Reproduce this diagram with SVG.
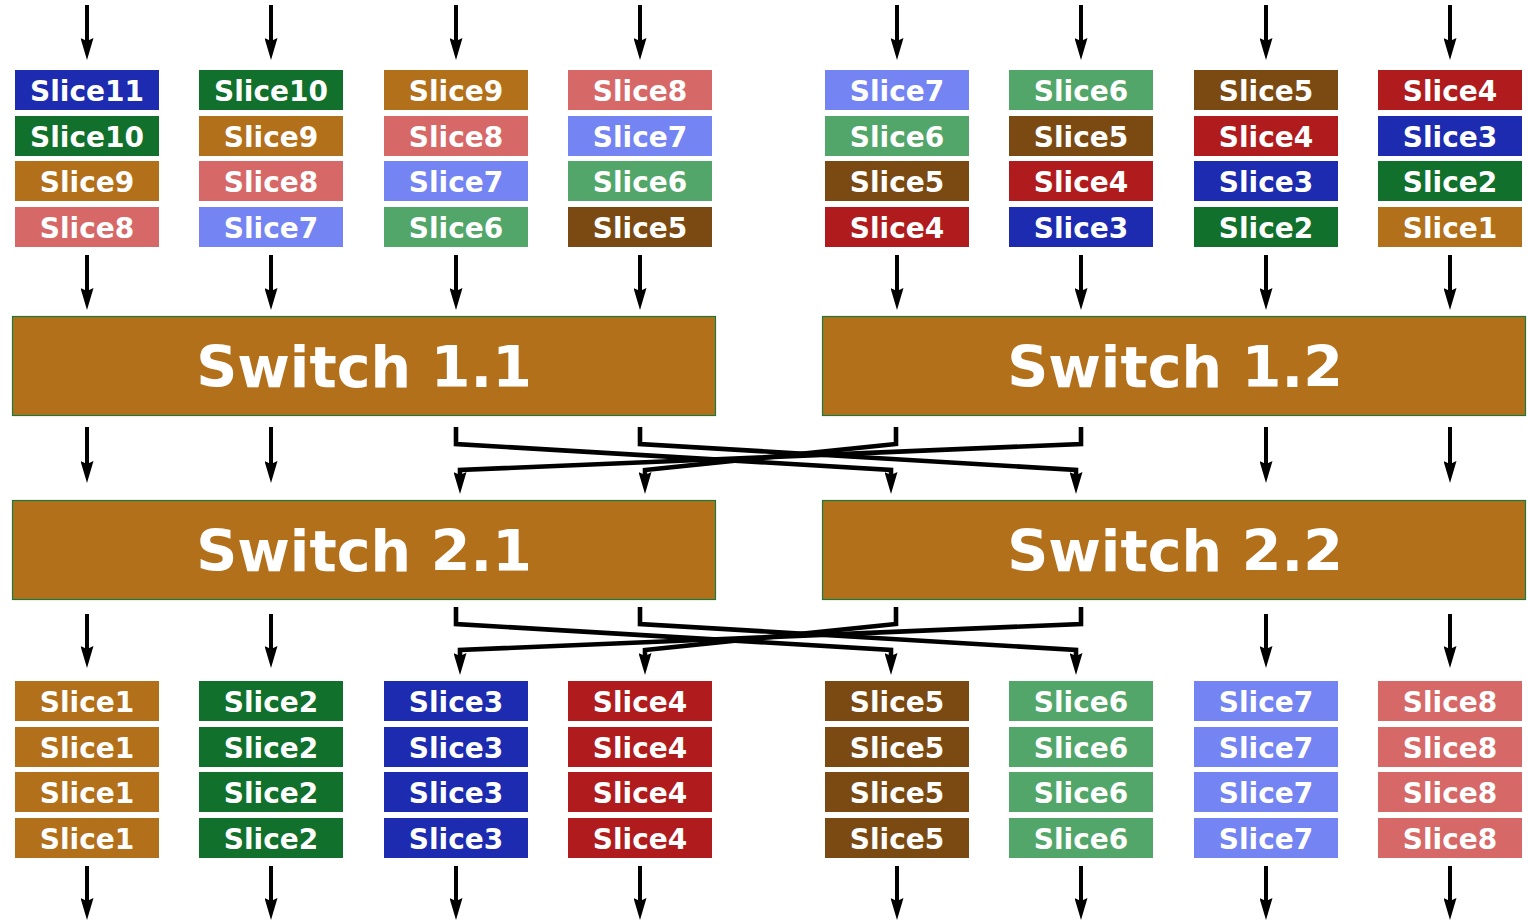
<svg xmlns="http://www.w3.org/2000/svg" width="1528" height="924" viewBox="0 0 1528 924">
<style>
.c1{fill:#b3701b}.c2{fill:#10702c}.c3{fill:#1c2bb0}.c4{fill:#b01b1d}
.c5{fill:#7a4a12}.c6{fill:#52a66a}.c7{fill:#7484f2}.c8{fill:#d66868}
.t{font-family:"DejaVu Sans","Liberation Sans",sans-serif;font-weight:bold;font-size:28px;fill:#fff;text-anchor:middle}
.sw{fill:#b3701b;stroke:#1b7a3b;stroke-width:1.2}
.st{font-family:"DejaVu Sans","Liberation Sans",sans-serif;font-weight:bold;font-size:57px;fill:#fff;text-anchor:middle}
.a{fill:none;stroke:#000;stroke-width:4;marker-end:url(#ah)}
.x{stroke-width:4.6}
</style>
<defs>
<marker id="ah" markerUnits="userSpaceOnUse" viewBox="0 0 22 13" markerWidth="22" markerHeight="13" refX="3" refY="6.5" orient="auto">
<path d="M0,0 L22,6.5 L0,13 L3,6.5 z" fill="#000"/>
</marker>
</defs>
<g id="connectors">
<path class="a" d="M87,5 V41"/><path class="a" d="M271,5 V41"/><path class="a" d="M456,5 V41"/><path class="a" d="M640,5 V41"/>
<path class="a" d="M897,5 V41"/><path class="a" d="M1081,5 V41"/><path class="a" d="M1266,5 V41"/><path class="a" d="M1450,5 V41"/>
<path class="a" d="M87,255 V291"/><path class="a" d="M271,255 V291"/><path class="a" d="M456,255 V291"/><path class="a" d="M640,255 V291"/>
<path class="a" d="M897,255 V291"/><path class="a" d="M1081,255 V291"/><path class="a" d="M1266,255 V291"/><path class="a" d="M1450,255 V291"/>
<path class="a" d="M87,427 V464"/><path class="a" d="M271,427 V464"/><path class="a" d="M1266,427 V464"/><path class="a" d="M1450,427 V464"/>
<path class="a x" d="M456,427 V444 L891,470 V475"/>
<path class="a x" d="M640,427 V444 L1076,470 V475"/>
<path class="a x" d="M896,427 V444 L645,470 V475"/>
<path class="a x" d="M1081,427 V444 L460,470 V475"/>
<path class="a" d="M87,614 V649"/><path class="a" d="M271,614 V649"/><path class="a" d="M1266,614 V649"/><path class="a" d="M1450,614 V649"/>
<path class="a x" d="M456,607 V624 L891,650 V656"/>
<path class="a x" d="M640,607 V624 L1076,650 V656"/>
<path class="a x" d="M896,607 V624 L645,650 V656"/>
<path class="a x" d="M1081,607 V624 L460,650 V656"/>
<path class="a" d="M87,866 V901"/><path class="a" d="M271,866 V901"/><path class="a" d="M456,866 V901"/><path class="a" d="M640,866 V901"/>
<path class="a" d="M897,866 V901"/><path class="a" d="M1081,866 V901"/><path class="a" d="M1266,866 V901"/><path class="a" d="M1450,866 V901"/>
</g>
<g id="switch11"><rect class="sw" x="12.5" y="316.5" width="703" height="99"/><text class="st" x="364" y="387">Switch 1.1</text></g>
<g id="switch12"><rect class="sw" x="822.5" y="316.5" width="703" height="99"/><text class="st" x="1175" y="387">Switch 1.2</text></g>
<g id="switch21"><rect class="sw" x="12.5" y="500.5" width="703" height="99"/><text class="st" x="364" y="571">Switch 2.1</text></g>
<g id="switch22"><rect class="sw" x="822.5" y="500.5" width="703" height="99"/><text class="st" x="1175" y="571">Switch 2.2</text></g>
<g id="t1a"><rect class="c3" x="15" y="70" width="144" height="40"/><text class="t" x="87" y="101">Slice11</text></g>
<g id="t1b"><rect class="c2" x="15" y="116" width="144" height="40"/><text class="t" x="87" y="147">Slice10</text></g>
<g id="t1c"><rect class="c1" x="15" y="161" width="144" height="40"/><text class="t" x="87" y="192">Slice9</text></g>
<g id="t1d"><rect class="c8" x="15" y="207" width="144" height="40"/><text class="t" x="87" y="238">Slice8</text></g>
<g id="t2a"><rect class="c2" x="199" y="70" width="144" height="40"/><text class="t" x="271" y="101">Slice10</text></g>
<g id="t2b"><rect class="c1" x="199" y="116" width="144" height="40"/><text class="t" x="271" y="147">Slice9</text></g>
<g id="t2c"><rect class="c8" x="199" y="161" width="144" height="40"/><text class="t" x="271" y="192">Slice8</text></g>
<g id="t2d"><rect class="c7" x="199" y="207" width="144" height="40"/><text class="t" x="271" y="238">Slice7</text></g>
<g id="t3a"><rect class="c1" x="384" y="70" width="144" height="40"/><text class="t" x="456" y="101">Slice9</text></g>
<g id="t3b"><rect class="c8" x="384" y="116" width="144" height="40"/><text class="t" x="456" y="147">Slice8</text></g>
<g id="t3c"><rect class="c7" x="384" y="161" width="144" height="40"/><text class="t" x="456" y="192">Slice7</text></g>
<g id="t3d"><rect class="c6" x="384" y="207" width="144" height="40"/><text class="t" x="456" y="238">Slice6</text></g>
<g id="t4a"><rect class="c8" x="568" y="70" width="144" height="40"/><text class="t" x="640" y="101">Slice8</text></g>
<g id="t4b"><rect class="c7" x="568" y="116" width="144" height="40"/><text class="t" x="640" y="147">Slice7</text></g>
<g id="t4c"><rect class="c6" x="568" y="161" width="144" height="40"/><text class="t" x="640" y="192">Slice6</text></g>
<g id="t4d"><rect class="c5" x="568" y="207" width="144" height="40"/><text class="t" x="640" y="238">Slice5</text></g>
<g id="t5a"><rect class="c7" x="825" y="70" width="144" height="40"/><text class="t" x="897" y="101">Slice7</text></g>
<g id="t5b"><rect class="c6" x="825" y="116" width="144" height="40"/><text class="t" x="897" y="147">Slice6</text></g>
<g id="t5c"><rect class="c5" x="825" y="161" width="144" height="40"/><text class="t" x="897" y="192">Slice5</text></g>
<g id="t5d"><rect class="c4" x="825" y="207" width="144" height="40"/><text class="t" x="897" y="238">Slice4</text></g>
<g id="t6a"><rect class="c6" x="1009" y="70" width="144" height="40"/><text class="t" x="1081" y="101">Slice6</text></g>
<g id="t6b"><rect class="c5" x="1009" y="116" width="144" height="40"/><text class="t" x="1081" y="147">Slice5</text></g>
<g id="t6c"><rect class="c4" x="1009" y="161" width="144" height="40"/><text class="t" x="1081" y="192">Slice4</text></g>
<g id="t6d"><rect class="c3" x="1009" y="207" width="144" height="40"/><text class="t" x="1081" y="238">Slice3</text></g>
<g id="t7a"><rect class="c5" x="1194" y="70" width="144" height="40"/><text class="t" x="1266" y="101">Slice5</text></g>
<g id="t7b"><rect class="c4" x="1194" y="116" width="144" height="40"/><text class="t" x="1266" y="147">Slice4</text></g>
<g id="t7c"><rect class="c3" x="1194" y="161" width="144" height="40"/><text class="t" x="1266" y="192">Slice3</text></g>
<g id="t7d"><rect class="c2" x="1194" y="207" width="144" height="40"/><text class="t" x="1266" y="238">Slice2</text></g>
<g id="t8a"><rect class="c4" x="1378" y="70" width="144" height="40"/><text class="t" x="1450" y="101">Slice4</text></g>
<g id="t8b"><rect class="c3" x="1378" y="116" width="144" height="40"/><text class="t" x="1450" y="147">Slice3</text></g>
<g id="t8c"><rect class="c2" x="1378" y="161" width="144" height="40"/><text class="t" x="1450" y="192">Slice2</text></g>
<g id="t8d"><rect class="c1" x="1378" y="207" width="144" height="40"/><text class="t" x="1450" y="238">Slice1</text></g>
<g id="b1a"><rect class="c1" x="15" y="681" width="144" height="40"/><text class="t" x="87" y="712">Slice1</text></g>
<g id="b1b"><rect class="c1" x="15" y="727" width="144" height="40"/><text class="t" x="87" y="758">Slice1</text></g>
<g id="b1c"><rect class="c1" x="15" y="772" width="144" height="40"/><text class="t" x="87" y="803">Slice1</text></g>
<g id="b1d"><rect class="c1" x="15" y="818" width="144" height="40"/><text class="t" x="87" y="849">Slice1</text></g>
<g id="b2a"><rect class="c2" x="199" y="681" width="144" height="40"/><text class="t" x="271" y="712">Slice2</text></g>
<g id="b2b"><rect class="c2" x="199" y="727" width="144" height="40"/><text class="t" x="271" y="758">Slice2</text></g>
<g id="b2c"><rect class="c2" x="199" y="772" width="144" height="40"/><text class="t" x="271" y="803">Slice2</text></g>
<g id="b2d"><rect class="c2" x="199" y="818" width="144" height="40"/><text class="t" x="271" y="849">Slice2</text></g>
<g id="b3a"><rect class="c3" x="384" y="681" width="144" height="40"/><text class="t" x="456" y="712">Slice3</text></g>
<g id="b3b"><rect class="c3" x="384" y="727" width="144" height="40"/><text class="t" x="456" y="758">Slice3</text></g>
<g id="b3c"><rect class="c3" x="384" y="772" width="144" height="40"/><text class="t" x="456" y="803">Slice3</text></g>
<g id="b3d"><rect class="c3" x="384" y="818" width="144" height="40"/><text class="t" x="456" y="849">Slice3</text></g>
<g id="b4a"><rect class="c4" x="568" y="681" width="144" height="40"/><text class="t" x="640" y="712">Slice4</text></g>
<g id="b4b"><rect class="c4" x="568" y="727" width="144" height="40"/><text class="t" x="640" y="758">Slice4</text></g>
<g id="b4c"><rect class="c4" x="568" y="772" width="144" height="40"/><text class="t" x="640" y="803">Slice4</text></g>
<g id="b4d"><rect class="c4" x="568" y="818" width="144" height="40"/><text class="t" x="640" y="849">Slice4</text></g>
<g id="b5a"><rect class="c5" x="825" y="681" width="144" height="40"/><text class="t" x="897" y="712">Slice5</text></g>
<g id="b5b"><rect class="c5" x="825" y="727" width="144" height="40"/><text class="t" x="897" y="758">Slice5</text></g>
<g id="b5c"><rect class="c5" x="825" y="772" width="144" height="40"/><text class="t" x="897" y="803">Slice5</text></g>
<g id="b5d"><rect class="c5" x="825" y="818" width="144" height="40"/><text class="t" x="897" y="849">Slice5</text></g>
<g id="b6a"><rect class="c6" x="1009" y="681" width="144" height="40"/><text class="t" x="1081" y="712">Slice6</text></g>
<g id="b6b"><rect class="c6" x="1009" y="727" width="144" height="40"/><text class="t" x="1081" y="758">Slice6</text></g>
<g id="b6c"><rect class="c6" x="1009" y="772" width="144" height="40"/><text class="t" x="1081" y="803">Slice6</text></g>
<g id="b6d"><rect class="c6" x="1009" y="818" width="144" height="40"/><text class="t" x="1081" y="849">Slice6</text></g>
<g id="b7a"><rect class="c7" x="1194" y="681" width="144" height="40"/><text class="t" x="1266" y="712">Slice7</text></g>
<g id="b7b"><rect class="c7" x="1194" y="727" width="144" height="40"/><text class="t" x="1266" y="758">Slice7</text></g>
<g id="b7c"><rect class="c7" x="1194" y="772" width="144" height="40"/><text class="t" x="1266" y="803">Slice7</text></g>
<g id="b7d"><rect class="c7" x="1194" y="818" width="144" height="40"/><text class="t" x="1266" y="849">Slice7</text></g>
<g id="b8a"><rect class="c8" x="1378" y="681" width="144" height="40"/><text class="t" x="1450" y="712">Slice8</text></g>
<g id="b8b"><rect class="c8" x="1378" y="727" width="144" height="40"/><text class="t" x="1450" y="758">Slice8</text></g>
<g id="b8c"><rect class="c8" x="1378" y="772" width="144" height="40"/><text class="t" x="1450" y="803">Slice8</text></g>
<g id="b8d"><rect class="c8" x="1378" y="818" width="144" height="40"/><text class="t" x="1450" y="849">Slice8</text></g>
</svg>
